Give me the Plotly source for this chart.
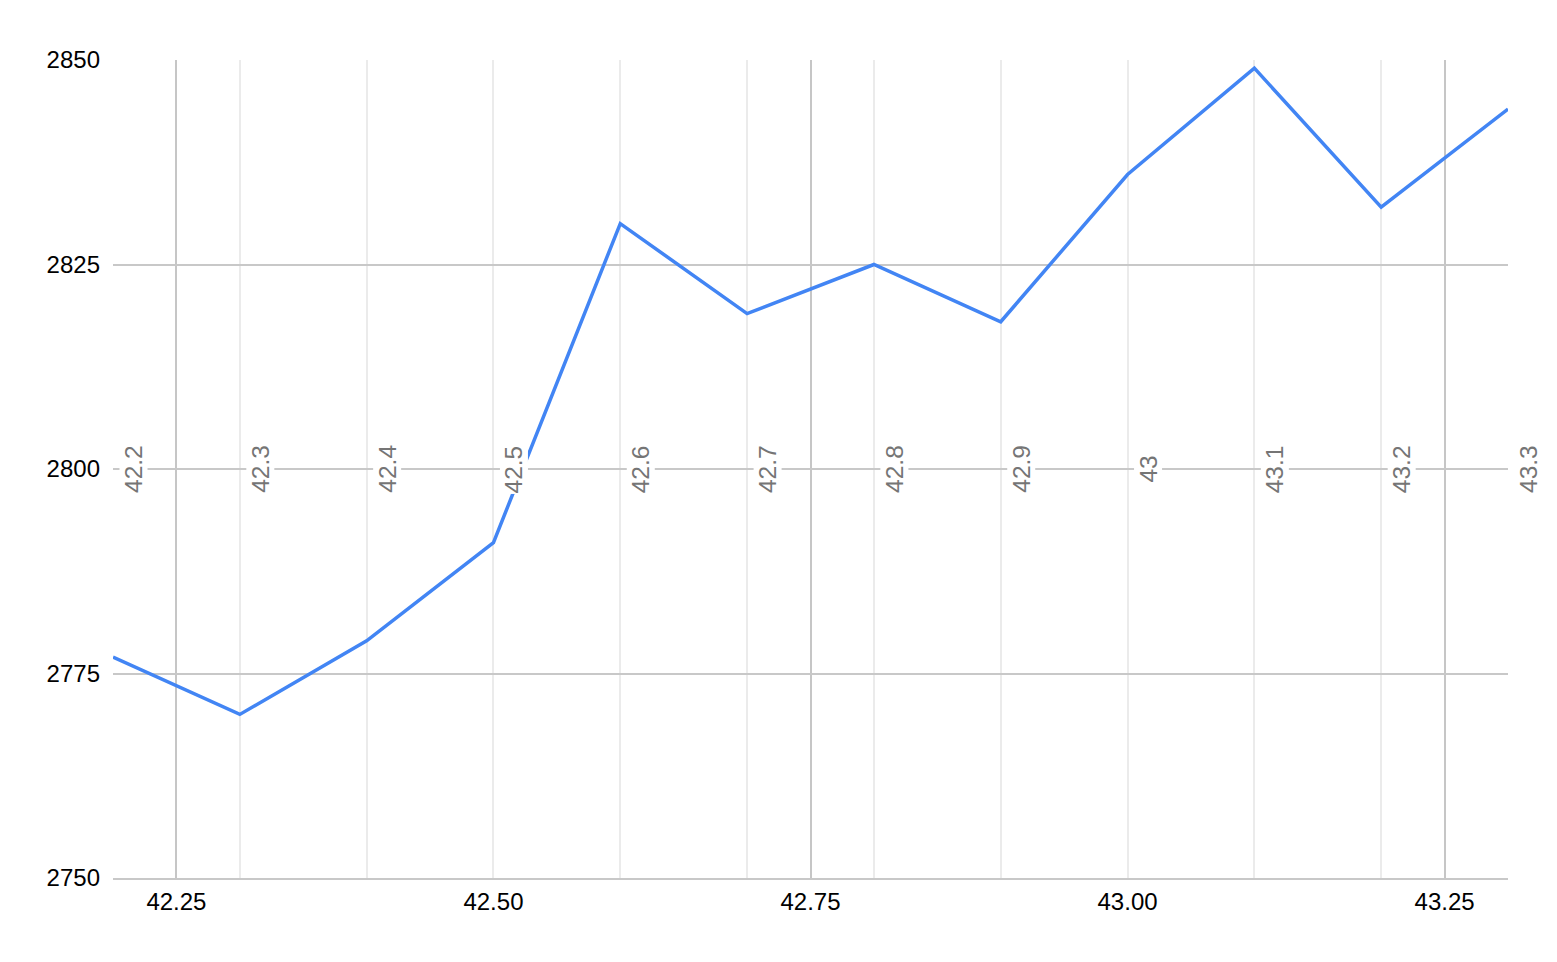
import plotly.graph_objects as go

x_vals = [42.2, 42.3, 42.4, 42.5, 42.6, 42.7, 42.8, 42.9, 43.0, 43.1, 43.2, 43.3]
y_vals = [2777, 2770, 2779, 2791, 2830, 2819, 2825, 2818, 2836, 2849, 2832, 2844]
x_labels = ["42.2", "42.3", "42.4", "42.5", "42.6", "42.7", "42.8", "42.9", "43", "43.1", "43.2", "43.3"]
y_ticks = [2750, 2775, 2800, 2825, 2850]
x_ticks = [42.25, 42.5, 42.75, 43.0, 43.25]
x_tick_text = ["42.25", "42.50", "42.75", "43.00", "43.25"]
x_dark_grid = [42.25, 42.75, 43.25]

FONT = "Liberation Sans, Arial, sans-serif"

fig = go.Figure()
fig.add_trace(go.Scatter(
    x=x_vals, y=y_vals, mode="lines", xaxis="x2", yaxis="y",
    line=dict(color="#4285F4", width=3.5),
    hoverinfo="skip", showlegend=False,
))

for xv, lab in zip(x_vals, x_labels):
    fig.add_annotation(
        x=xv, y=2800, xref="x", yref="y", text=lab, textangle=-90,
        showarrow=False, xanchor="center", yanchor="middle", xshift=20,
        font=dict(family=FONT, size=24.5, color="#757575"),
        bgcolor="white", borderpad=0,
    )

fig.update_layout(
    width=1557, height=962,
    margin=dict(l=105, r=57, t=52, b=92),
    paper_bgcolor="white", plot_bgcolor="white",
    font=dict(family=FONT, size=24, color="#000000"),
    showlegend=False,
    xaxis=dict(
        range=[42.2, 43.3], tickmode="array", tickvals=x_dark_grid,
        showticklabels=False,
        showgrid=True, gridcolor="#c6c6c6", gridwidth=2,
        minor=dict(tick0=42.2, dtick=0.1, showgrid=True, gridcolor="#ebebeb", gridwidth=2),
        zeroline=False, showline=True, linecolor="#c8c8c8", linewidth=1.5,
        ticks="",
    ),
    xaxis2=dict(
        range=[42.2, 43.3], overlaying="x", anchor="y", side="bottom",
        tickmode="array", tickvals=x_ticks, ticktext=x_tick_text,
        showgrid=False, zeroline=False, showline=False, ticks="",
        ticklabelstandoff=7,
        tickfont=dict(family=FONT, size=24, color="#000000"),
    ),
    yaxis=dict(
        range=[2750, 2850], tickmode="array", tickvals=y_ticks,
        showgrid=True, gridcolor="#c8c8c8", gridwidth=1.5,
        zeroline=False, showline=False, ticks="", ticklabelstandoff=12,
        tickfont=dict(family=FONT, size=24, color="#000000"),
    ),
)

fig.write_html("out.html")
